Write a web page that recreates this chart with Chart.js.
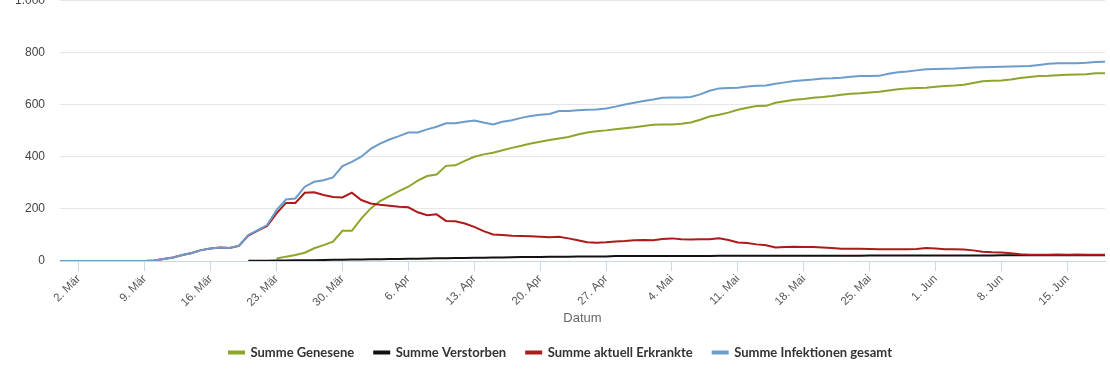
<!DOCTYPE html>
<html><head><meta charset="utf-8">
<script src="https://cdn.jsdelivr.net/npm/chart.js@4.4.1/dist/chart.umd.min.js"></script>
<style>
html,body{margin:0;padding:0;background:#fff;overflow:hidden;width:1110px;height:369px;position:relative}
#wrap{position:absolute;left:0;top:-7px;width:1110px;height:376px}
</style>
</head><body>
<div id="wrap"><canvas id="c"></canvas></div>
<script>
// Categories: daily dates, 29. Feb – 19. Jun
const monthSpans = [['Feb',29,29],['Mär',1,31],['Apr',1,30],['Mai',1,31],['Jun',1,19]];
const categories = [];
monthSpans.forEach(([m,a,b]) => { for (let d = a; d <= b; d++) categories.push(d + '. ' + m); });

const tickLabels = ['2. Mär','9. Mär','16. Mär','23. Mär','30. Mär','6. Apr','13. Apr','20. Apr','27. Apr',
  '4. Mai','11. Mai','18. Mai','25. Mai','1. Jun','8. Jun','15. Jun'];
const yTicks = [0,200,400,600,800,1000];

const seriesNames = ['Summe Genesene','Summe Verstorben','Summe aktuell Erkrankte','Summe Infektionen gesamt'];

const genesene = [null,null,null,null,null,null,null,null,null,null,
  null,null,null,null,null,null,null,null,null,null,
  null,null,null,10,17,23,32,49,61,74,
  116,116,163,202,230,249,268,285,308,326,
  332,365,367,384,400,409,415,425,434,442,
  451,457,464,470,476,485,493,498,501,505,
  509,513,518,523,524,524,526,531,542,554,
  561,569,580,588,594,595,607,613,618,621,
  626,629,633,638,641,643,646,649,654,659,
  662,663,664,668,671,673,676,683,689,691,
  692,696,702,706,709,710,712,714,715,716,
  720,720];

const verstorben = [null,null,null,null,null,null,null,null,null,null,
  null,null,null,null,null,null,null,null,null,null,
  1,1,1,2,2,3,3,3,4,5,
  5,6,6,7,7,8,8,9,9,10,
  11,11,12,12,13,13,14,14,15,16,
  16,16,17,17,17,18,18,18,18,19,
  19,19,19,19,19,19,19,19,19,19,
  20,20,20,20,20,20,20,20,20,20,
  20,20,20,20,20,20,21,21,21,21,
  21,21,21,21,21,21,21,21,21,21,
  22,22,22,22,22,22,22,22,22,22,
  22,22];

const erkrankte = [0,0,0,0,0,0,0,0,0,0,
  2,8,14,23,31,42,48,52,50,58,
  98,117,135,183,223,223,262,264,253,246,
  244,262,234,221,216,212,208,206,187,176,
  179,154,153,144,131,115,102,100,97,96,
  95,93,91,93,87,80,72,70,72,75,
  77,80,81,80,85,87,84,83,84,84,
  87,81,71,69,64,61,52,54,55,54,
  54,52,50,47,47,47,46,45,45,45,
  45,46,50,48,45,45,44,41,36,34,
  33,30,26,24,24,24,25,24,25,24,
  24,24];

const infektionen = [0,0,0,0,0,0,0,0,0,0,
  2,8,14,23,31,42,48,52,50,58,
  100,119,138,195,236,240,285,304,310,321,
  364,380,400,430,450,466,479,493,493,505,
  515,528,528,534,539,531,524,534,540,549,
  556,561,564,575,575,578,580,581,585,592,
  600,607,614,619,626,627,627,629,639,653,
  662,663,664,669,672,673,680,685,690,693,
  696,700,701,703,707,709,709,710,718,724,
  727,731,735,736,737,738,740,742,743,744,
  745,746,747,748,752,756,758,758,758,760,
  763,764];

const colors = ['#8ca52b','#111111','#ad1a1a','#6c9cca'];
const seriesData = [genesene, verstorben, erkrankte, infektionen];
const drawOrder = [3,2,1,0]; // later series drawn on top

const tickSet = new Set(tickLabels);
const fmt = v => v >= 1000 ? Math.floor(v/1000) + '.' + String(v % 1000).padStart(3,'0') : String(v);

const chart = new Chart(document.getElementById('c'), {
  type: 'line',
  data: {
    labels: categories,
    datasets: seriesData.map((d, i) => ({
      label: seriesNames[i],
      data: d,
      borderColor: colors[i],
      backgroundColor: colors[i],
      borderWidth: 2,
      pointRadius: 0,
      tension: 0,
      spanGaps: false,
      order: drawOrder[i]
    }))
  },
  options: {
    responsive: true,
    maintainAspectRatio: false,
    animation: false,
    devicePixelRatio: 1,
    layout: { padding: { left: 16, right: 5, top: 0, bottom: 0 } },
    plugins: {
      tooltip: { enabled: false },
      legend: {
        position: 'bottom',
        labels: {
          boxWidth: 15, boxHeight: 2, padding: 20,
          color: '#333333',
          font: { family: 'Lato, "Liberation Sans", Arial, sans-serif', size: 13, weight: 'bold' },
          sort: (a, b) => a.datasetIndex - b.datasetIndex
        }
      }
    },
    scales: {
      x: {
        type: 'category',
        offset: false,
        afterFit: s => { s.paddingRight = 0; },
        ticks: {
          autoSkip: false, maxRotation: 45, minRotation: 45, padding: 1,
          color: '#555555',
          font: { family: '"Liberation Sans", Arial, sans-serif', size: 11.5 },
          callback: function(v, i) { const l = categories[i]; return tickSet.has(l) ? l : ''; }
        },
        grid: {
          drawOnChartArea: false, drawTicks: true, tickLength: 10, lineWidth: 1,
          color: ctx => (ctx.tick && tickSet.has(categories[ctx.index])) ? '#ccd6eb' : 'rgba(0,0,0,0)'
        },
        border: { display: true, color: '#ccd6eb', width: 1 },
        title: {
          display: true, text: 'Datum', color: '#666666',
          font: { family: '"Liberation Sans", Arial, sans-serif', size: 13 },
          padding: { top: 0, bottom: 0 }
        }
      },
      y: {
        min: 0, max: 1000,
        afterBuildTicks: s => { s.ticks = yTicks.map(v => ({ value: v })); },
        afterFit: s => { s.width = 44; },
        ticks: {
          color: '#444444', padding: 15,
          font: { family: '"Liberation Sans", Arial, sans-serif', size: 12 },
          callback: v => fmt(v)
        },
        grid: { color: '#e6e6e6', drawTicks: false, lineWidth: 1 },
        border: { display: false }
      }
    }
  }
});

const T = Math.round(chart.chartArea.top);
const wrap = document.getElementById('wrap');
wrap.style.top = (-T) + 'px';
wrap.style.height = (369 + T) + 'px';
chart.resize();
</script>
</body></html>
